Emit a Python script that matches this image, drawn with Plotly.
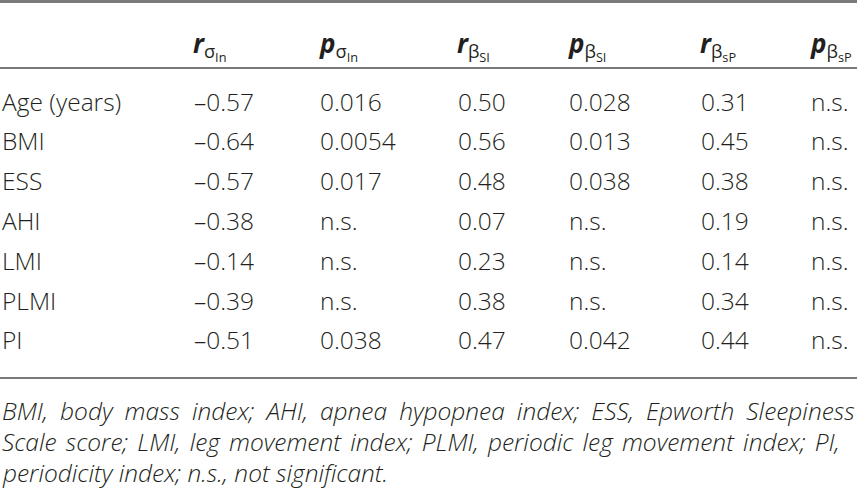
import plotly.graph_objects as go

variables = ["Age (years)", "BMI", "ESS", "AHI", "LMI", "PLMI", "PI"]
r_sigma_in = ["–0.57", "–0.64", "–0.57", "–0.38", "–0.14", "–0.39", "–0.51"]
p_sigma_in = ["0.016", "0.0054", "0.017", "n.s.", "n.s.", "n.s.", "0.038"]
r_beta_si = ["0.50", "0.56", "0.48", "0.07", "0.23", "0.38", "0.47"]
p_beta_si = ["0.028", "0.013", "0.038", "n.s.", "n.s.", "n.s.", "0.042"]
r_beta_sp = ["0.31", "0.45", "0.38", "0.19", "0.14", "0.34", "0.44"]
p_beta_sp = ["n.s.", "n.s.", "n.s.", "n.s.", "n.s.", "n.s.", "n.s."]

headers = [
    "<b><i>r</i></b><sub>σ<sub>In</sub></sub>",
    "<b><i>p</i></b><sub>σ<sub>In</sub></sub>",
    "<b><i>r</i></b><sub>β<sub>SI</sub></sub>",
    "<b><i>p</i></b><sub>β<sub>SI</sub></sub>",
    "<b><i>r</i></b><sub>β<sub>sP</sub></sub>",
    "<b><i>p</i></b><sub>β<sub>sP</sub></sub>",
]

footnote = [
    "BMI, body mass index; AHI, apnea hypopnea index; ESS, Epworth Sleepiness",
    "Scale score; LMI, leg movement index; PLMI, periodic leg movement index; PI,",
    "periodicity index; n.s., not significant.",
]
footnote_spacing = [5.7, 2.8, 0]

columns = [r_sigma_in, p_sigma_in, r_beta_si, p_beta_si, r_beta_sp, p_beta_sp]
col_x = [192, 318, 456, 567, 699, 809]

W, H = 857, 489
row0, row_step = 101, 39.8

def row_y(px):
    return (px - row0) / row_step

FONT = "Open Sans"
TXT = "#231f20"
fig = go.Figure()
fig.add_trace(go.Scatter(x=[0, W], y=[0, 0], mode="markers", marker=dict(opacity=0), hoverinfo="skip", showlegend=False))

ann = []
for i, name in enumerate(variables):
    ann.append(dict(x=0, y=i, text=name, xanchor="left", yanchor="middle", showarrow=False,
                    font=dict(family=FONT, size=24.5, color=TXT, weight=300)))
    for cx, col in zip(col_x, columns):
        ann.append(dict(x=cx, y=i, text=col[i], xanchor="left", yanchor="middle", showarrow=False,
                        font=dict(family=FONT, size=24.5, color=TXT, weight=300)))

for cx, h in zip(col_x, headers):
    ann.append(dict(x=cx - 1, y=row_y(45), text=h, xanchor="left", yanchor="middle", showarrow=False,
                    font=dict(family=FONT, size=26, color=TXT)))

for k, line in enumerate(footnote):
    txt = "<i><span style='word-spacing:%.1fpx'>%s</span></i>" % (footnote_spacing[k], line)
    ann.append(dict(x=0, y=row_y(410 + 31 * k), text=txt, xanchor="left", yanchor="middle",
                    showarrow=False, font=dict(family=FONT, size=24.5, color=TXT, weight=300)))

shapes = [
    dict(type="line", xref="x", yref="y", x0=0, x1=W, y0=row_y(1.5), y1=row_y(1.5), line=dict(color="#7a7a7a", width=3)),
    dict(type="line", xref="x", yref="y", x0=0, x1=W, y0=row_y(68), y1=row_y(68), line=dict(color="#7a7a7a", width=2)),
    dict(type="line", xref="x", yref="y", x0=0, x1=W, y0=row_y(378), y1=row_y(378), line=dict(color="#7a7a7a", width=2)),
]

fig.update_layout(
    width=W, height=H, margin=dict(l=0, r=0, t=0, b=0),
    paper_bgcolor="white", plot_bgcolor="white",
    xaxis=dict(range=[0, W], visible=False, fixedrange=True),
    yaxis=dict(range=[row_y(H), row_y(0)], visible=False, fixedrange=True),
    annotations=ann, shapes=shapes, showlegend=False,
)
fig.write_html("out.html", config={"displayModeBar": False},
               post_script="document.body.style.margin='0px';document.body.style.overflow='hidden';")
